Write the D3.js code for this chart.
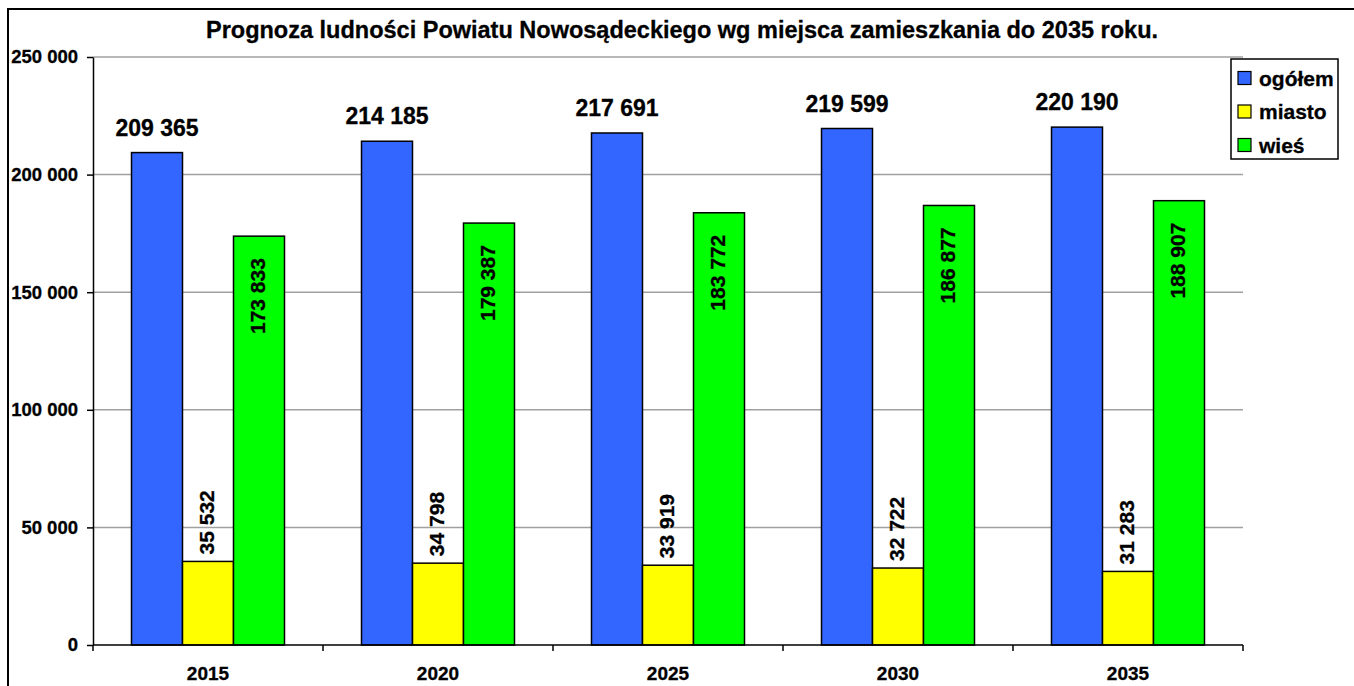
<!DOCTYPE html>
<html>
<head>
<meta charset="utf-8">
<script src="https://cdn.jsdelivr.net/npm/d3@7"></script>
<style>
  body { margin: 0; background: #fff; }
  svg text { font-family: "Liberation Sans", Arial, sans-serif; font-weight: bold; fill: #000; stroke: #000; stroke-width: 0.3px; }
</style>
</head>
<body>
<svg id="chart" width="1354" height="686"></svg>
<script>
// data
var years = ["2015", "2020", "2025", "2030", "2035"];
var series = ["ogółem", "miasto", "wieś"];
var ogolem = [209365, 214185, 217691, 219599, 220190];
var miasto = [35532, 34798, 33919, 32722, 31283];
var wies = [173833, 179387, 183772, 186877, 188907];
var yTicks = [0, 50000, 100000, 150000, 200000, 250000];
var title = "Prognoza ludności Powiatu Nowosądeckiego wg miejsca zamieszkania do 2035 roku.";

var colors = { "ogółem": "#3366ff", "miasto": "#ffff00", "wieś": "#00ff00" };
var values = { "ogółem": ogolem, "miasto": miasto, "wieś": wies };

var svg = d3.select("#chart");
var plot = { left: 93, right: 1243, top: 57, bottom: 645 };

var fmt = function(v) { return d3.format(",")(v).replace(/,/g, " "); };

// outer frame (runs off the right and bottom edges)
svg.append("rect")
  .attr("x", 8).attr("y", 9)
  .attr("width", 1400).attr("height", 720)
  .attr("fill", "none").attr("stroke", "#000").attr("stroke-width", 2);

svg.append("text")
  .attr("x", 682).attr("y", 38)
  .attr("text-anchor", "middle")
  .style("font-size", "23.5px")
  .text(title);

var x0 = d3.scaleBand().domain(years).range([plot.left, plot.right]);
var x1 = d3.scaleBand().domain(series).range([0, x0.bandwidth()]).paddingOuter(0.755);
var y = d3.scaleLinear().domain([0, 250000]).range([plot.bottom, plot.top]);

// grid
svg.append("g")
  .selectAll("line")
  .data(yTicks.slice(1))
  .enter().append("line")
    .attr("x1", plot.left).attr("x2", plot.right)
    .attr("y1", function(d) { return y(d); })
    .attr("y2", function(d) { return y(d); })
    .attr("stroke", "#a0a0a0").attr("stroke-width", 1.5);

// y axis
var yAxis = svg.append("g")
  .attr("transform", "translate(" + plot.left + ",0)")
  .call(d3.axisLeft(y).tickValues(yTicks).tickFormat(fmt).tickSize(6).tickSizeOuter(0).tickPadding(9));
yAxis.select(".domain").attr("stroke-width", 1.5);
yAxis.selectAll(".tick line").attr("stroke-width", 1.5);
yAxis.selectAll("text").style("font-size", "18.5px").attr("font-family", null);

// bars
var groups = svg.append("g")
  .selectAll("g")
  .data(years)
  .enter().append("g")
    .attr("transform", function(d) { return "translate(" + x0(d) + ",0)"; });

groups.selectAll("rect")
  .data(function(d, i) { return series.map(function(s) { return { s: s, v: values[s][i] }; }); })
  .enter().append("rect")
    .attr("x", function(d) { return x1(d.s); })
    .attr("width", x1.bandwidth())
    .attr("y", function(d) { return y(d.v); })
    .attr("height", function(d) { return y(0) - y(d.v); })
    .attr("fill", function(d) { return colors[d.s]; })
    .attr("stroke", "#000").attr("stroke-width", 1.5);

// value labels
groups.each(function(yr, i) {
  var g = d3.select(this);
  var cx = function(s) { return x1(s) + x1.bandwidth() / 2; };

  g.append("text")
    .attr("x", cx("ogółem"))
    .attr("y", y(ogolem[i]) - 17)
    .attr("text-anchor", "middle")
    .style("font-size", "23px")
    .text(fmt(ogolem[i]));

  g.append("text")
    .attr("transform", "translate(" + (cx("miasto") - 2) + "," + (y(miasto[i]) - 7) + ") rotate(-90)")
    .attr("dy", "0.36em")
    .attr("text-anchor", "start")
    .style("font-size", "21px")
    .text(fmt(miasto[i]));

  g.append("text")
    .attr("transform", "translate(" + (cx("wieś") - 2) + "," + (y(wies[i]) + 22) + ") rotate(-90)")
    .attr("dy", "0.36em")
    .attr("text-anchor", "end")
    .style("font-size", "21px")
    .text(fmt(wies[i]));
});

// x axis
var xAxis = svg.append("g")
  .attr("transform", "translate(0," + plot.bottom + ")");
xAxis.append("line")
  .attr("x1", plot.left).attr("x2", plot.right)
  .attr("stroke", "#000").attr("stroke-width", 1.5);
xAxis.selectAll("line.tk")
  .data(years.concat(["end"]))
  .enter().append("line")
    .attr("class", "tk")
    .attr("x1", function(d, i) { return plot.left + i * x0.step(); })
    .attr("x2", function(d, i) { return plot.left + i * x0.step(); })
    .attr("y1", 0).attr("y2", 6)
    .attr("stroke", "#000").attr("stroke-width", 1.5);
xAxis.selectAll("text")
  .data(years)
  .enter().append("text")
    .attr("x", function(d) { return x0(d) + x0.bandwidth() / 2; })
    .attr("y", 35)
    .attr("text-anchor", "middle")
    .style("font-size", "19px")
    .text(function(d) { return d; });

// legend
var legend = svg.append("g").attr("transform", "translate(1231,59)");
legend.append("rect")
  .attr("width", 107).attr("height", 100)
  .attr("fill", "#fff").attr("stroke", "#000").attr("stroke-width", 1.5);
var items = legend.selectAll("g.item")
  .data(series)
  .enter().append("g")
    .attr("class", "item")
    .attr("transform", function(d, i) { return "translate(7," + (19 + i * 33.5) + ")"; });
items.append("rect")
  .attr("x", 0).attr("y", -6.5)
  .attr("width", 13).attr("height", 13)
  .attr("fill", function(d) { return colors[d]; })
  .attr("stroke", "#000").attr("stroke-width", 1.2);
items.append("text")
  .attr("x", 21).attr("y", 7.5)
  .style("font-size", "21px")
  .text(function(d) { return d; });
</script>
</body>
</html>
